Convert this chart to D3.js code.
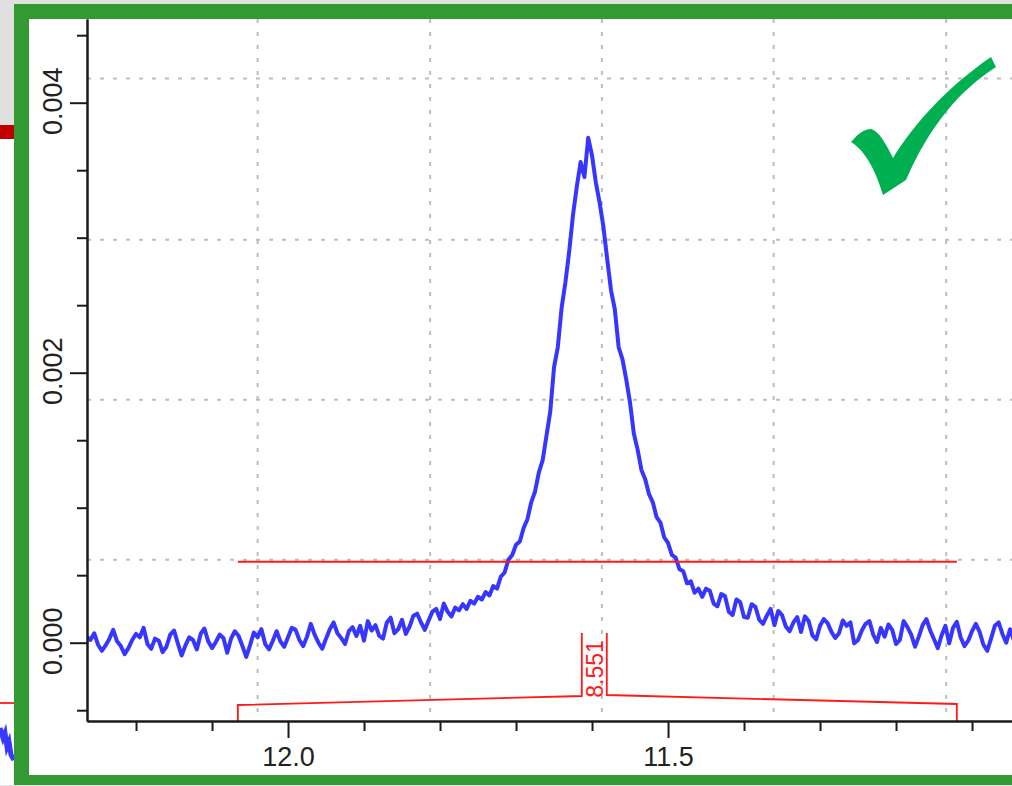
<!DOCTYPE html>
<html>
<head>
<meta charset="utf-8">
<script src="https://cdn.jsdelivr.net/npm/d3@7"></script>
<style>
  html, body { margin: 0; padding: 0; background: #fff; }
  svg { display: block; font-family: "Liberation Sans", Arial, sans-serif; }
</style>
</head>
<body>
<svg id="chart" width="1012" height="786"></svg>
<script>
// spectrum, sampled every 0.005 ppm starting at 12.265 ppm (intensity in units of 1e-6)
const ppmStart = 12.265;
const ppmStep = 0.005;
const intensityE6 = [
  45, 20, 70, -15, -60, -20, 30, 95, 10, -25, -85, -40, 20, 65, 40, 110, -10, -45, 30, 15, -70, -30, 60, 90, -5,
  -95, -20, 40, 20, -50, 65, 105, 10, -40, 5, 60, 35, -75, 30, 85, 50, -25, -105, -20, 75, 40, 100, -10, -50, 15,
  85, 10, -30, 40, 110, 95, 20, -25, 45, 140, 60, 0, -45, 30, 100, 150, 70, 35, -10, 85, 115, 50, 125, 15, 160,
  90, 130, 50, 30, 150, 185, 70, 100, 170, 65, 120, 200, 215, 150, 95, 165, 230, 250, 175, 290,
  230, 195, 260, 240, 285, 250, 310, 290, 340, 320, 375, 350, 420, 400,
  490, 520, 615, 650, 725, 750, 850, 915, 1040, 1120, 1260, 1350, 1530, 1710, 2040, 2190, 2480, 2670,
  2900, 3170, 3380, 3560, 3450, 3740, 3610, 3410, 3260, 3080, 2840, 2610, 2470, 2190, 2100, 1950, 1780, 1550,
  1430, 1280, 1210, 1100, 1040, 930, 890, 780, 740, 650, 630, 545, 530, 440, 455, 370, 400, 340,
  400, 385, 290, 270, 360, 345, 230, 205, 320, 300, 190, 185,
  285, 265, 170, 140, 200, 250, 130,
  235, 205, 120, 85, 150, 190, 80,
  195, 160, 55, 25, 125, 175, 145, 80,
  35, 70, 165, 125, 150, -5, 20, 90, 140, 160, 60, 5, 110,
  45, 135, 95, -10, 20, 160, 115, 60, -30, 45, 130, 175, 90, 25, -40, 55, 125, -5,
  110, 155, 40, -25, 15, 85, 140, 80, -15, -60, 30, 125, 150, 65, 0, 100, 20
];

// axis ticks
const xMajorTicks = [12.0, 11.5];
const xMinorTicks = [12.2, 12.1, 11.9, 11.8, 11.7, 11.6, 11.4, 11.3, 11.2, 11.1];
const yMajorTicks = [0.000, 0.002, 0.004];
const yMinorTicks = [-0.0005, 0.0005, 0.001, 0.0015, 0.0025, 0.003, 0.0035, 0.0045];

// background grid (offset from the ticks in the original screenshot)
const gridPpm = [12.04, 11.813, 11.587, 11.361, 11.134];
const gridInt = [0.00418, 0.002985, 0.0018, 0.000615];

// integral region
const integralRange = [12.066, 11.12];
const integralLevel = 0.0006;
const integralCenter = 11.597;
const integralLabel = "8.551";

const plot = { left: 87, right: 1012, top: 19, bottom: 721 };

const x = d3.scaleLinear([12.2645, 11.0474], [plot.left, plot.right]);
const y = d3.scaleLinear([-0.00058, 0.00462], [plot.bottom, plot.top]);

const svg = d3.select("#chart");

// page background pieces behind the framed chart
svg.append("rect").attr("width", 1012).attr("height", 786).attr("fill", "#fff");
svg.append("rect").attr("width", 1012).attr("height", 4).attr("fill", "#e0e0e0");
svg.append("rect").attr("width", 14).attr("height", 125).attr("fill", "#e0e0e0");
svg.append("rect").attr("y", 125).attr("width", 14).attr("height", 14).attr("fill", "#c00000");
svg.append("rect").attr("y", 785).attr("width", 1012).attr("height", 1).attr("fill", "#e0e0e0");
svg.append("line")
  .attr("x1", 0).attr("x2", 14).attr("y1", 703).attr("y2", 703)
  .attr("stroke", "#ff3030").attr("stroke-width", 2);
svg.append("path")
  .attr("d", "M0,728 L3,738 L5,733 L7,747 L9,742 L11,755 L14,760")
  .attr("fill", "none").attr("stroke", "#3838ff").attr("stroke-width", 5);

// grid
const grid = svg.append("g")
  .attr("stroke", "#bdbdbd")
  .attr("stroke-width", 2)
  .attr("stroke-dasharray", "4,9");
grid.selectAll(".gx").data(gridPpm).join("line")
  .attr("x1", (d) => x(d)).attr("x2", (d) => x(d))
  .attr("y1", plot.top).attr("y2", plot.bottom);
grid.selectAll(".gy").data(gridInt).join("line")
  .attr("x1", plot.left).attr("x2", plot.right)
  .attr("y1", (d) => y(d)).attr("y2", (d) => y(d));

// spectrum
svg.append("clipPath").attr("id", "clip")
  .append("rect")
  .attr("x", plot.left + 1).attr("y", plot.top)
  .attr("width", plot.right - plot.left).attr("height", plot.bottom - plot.top);

const spectrum = intensityE6.map((v, i) => ({ ppm: ppmStart - i * ppmStep, value: v * 1e-6 }));
const line = d3.line().x((d) => x(d.ppm)).y((d) => y(d.value));

svg.append("path")
  .attr("clip-path", "url(#clip)")
  .attr("fill", "none")
  .attr("stroke", "#3636ff")
  .attr("stroke-width", 4)
  .attr("stroke-linejoin", "round")
  .attr("d", line(spectrum));

// integral level line and bracket
const red = "#ff1a1a";
svg.append("line")
  .attr("x1", x(integralRange[0])).attr("x2", x(integralRange[1]))
  .attr("y1", y(integralLevel)).attr("y2", y(integralLevel))
  .attr("stroke", red).attr("stroke-width", 2);

const xl = x(integralRange[0]), xr = x(integralRange[1]), xc = x(integralCenter);
const b = plot.bottom;
svg.append("path")
  .attr("fill", "none").attr("stroke", red).attr("stroke-width", 1.8)
  .attr("d", `M${xl},${b} V${b - 16} L${xc - 12.5},${b - 25} V${b - 88}
              M${xc + 12.5},${b - 88} V${b - 26} L${xr},${b - 17} V${b}`);
svg.append("text")
  .attr("transform", `translate(${xc + 9},${b - 52}) rotate(-90)`)
  .attr("text-anchor", "middle")
  .attr("fill", red)
  .attr("font-size", 23)
  .text(integralLabel);

// axes
const axisColor = "#1a1a1a";
const xAxisMinor = svg.append("g")
  .attr("transform", `translate(0,${plot.bottom})`)
  .call(d3.axisBottom(x).tickValues(xMinorTicks).tickSize(10).tickSizeOuter(0).tickFormat(""));
const xAxisMajor = svg.append("g")
  .attr("transform", `translate(0,${plot.bottom})`)
  .call(d3.axisBottom(x).tickValues(xMajorTicks).tickSize(17).tickSizeOuter(0).tickFormat(d3.format(".1f")));
xAxisMajor.selectAll("text")
  .attr("y", 45).attr("dy", 0)
  .attr("font-size", 27)
  .attr("fill", "#222");

const yAxisMinor = svg.append("g")
  .attr("transform", `translate(${plot.left},0)`)
  .call(d3.axisLeft(y).tickValues(yMinorTicks).tickSize(10).tickSizeOuter(0).tickFormat(""));
const yAxisMajor = svg.append("g")
  .attr("transform", `translate(${plot.left},0)`)
  .call(d3.axisLeft(y).tickValues(yMajorTicks).tickSize(17).tickSizeOuter(0).tickFormat(d3.format(".3f")));
yAxisMajor.selectAll("text")
  .attr("transform", "rotate(-90)")
  .attr("x", 2).attr("y", -25).attr("dy", 0)
  .attr("text-anchor", "middle")
  .attr("font-size", 27)
  .attr("fill", "#222");

[xAxisMinor, xAxisMajor, yAxisMinor, yAxisMajor].forEach((g) => {
  g.attr("font-family", null);
  g.selectAll("path, line").attr("stroke", axisColor).attr("stroke-width", 2);
});

// check mark
svg.append("path")
  .attr("fill", "#00b050")
  .attr("d", "M851,142 C858,134 864,129 871,129 C879,131 886,144 893,158 " +
             "C915,122 950,85 991,57 L996,67 C960,90 930,125 906,180 " +
             "L883,195 C876,172 866,151 851,142 Z");

// green frame
const frame = svg.append("g").attr("fill", "#339933");
frame.append("rect").attr("x", 14).attr("y", 4).attr("width", 15).attr("height", 781);
frame.append("rect").attr("x", 14).attr("y", 4).attr("width", 998).attr("height", 15);
frame.append("rect").attr("x", 14).attr("y", 775).attr("width", 998).attr("height", 10);
</script>
</body>
</html>
